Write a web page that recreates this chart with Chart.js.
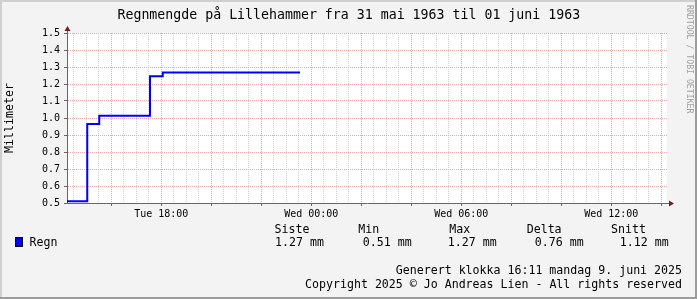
<!DOCTYPE html>
<html><head><meta charset="utf-8">
<script src="https://cdn.jsdelivr.net/npm/chart.js@4"></script>
<style>
html,body{margin:0;padding:0;background:#f3f3f3;}
#wrap{position:relative;width:697px;height:299px;overflow:hidden;font-family:"DejaVu Sans Mono",monospace;color:#000;}
canvas{position:absolute;left:0;top:0;}
.t{position:absolute;white-space:pre;}
.b{position:absolute;}
</style></head><body>
<div id="wrap">
<canvas id="c" width="697" height="299"></canvas>
</div>
<script>
// ---- data ----
const titleText = 'Regnmengde på Lillehammer fra 31 mai 1963 til 01 juni 1963';
const yAxisTitle = 'Millimeter';
const windowStart = 14.23;   // hours since Tue 00:00
const windowEnd = 38.23;
const times  = [14.23, 15.04, 15.52, 17.55, 18.06, 23.55];
const values = [0.51, 0.965, 1.013, 1.245, 1.267, 1.267];
const xLabelHours = [18, 24, 30, 36];
const xLabelTexts = ['Tue 18:00', 'Wed 00:00', 'Wed 06:00', 'Wed 12:00'];
const yTicks = [0.5, 0.6, 0.7, 0.8, 0.9, 1.0, 1.1, 1.2, 1.3, 1.4, 1.5];
const seriesName = 'Regn';
const statHeaders = ['Siste', 'Min', 'Max', 'Delta', 'Snitt'];
const statValues = ['1.27 mm', '0.51 mm', '1.27 mm', '0.76 mm', '1.12 mm'];
const footer1 = 'Generert klokka 16:11 mandag 9. juni 2025';
const footer2 = 'Copyright 2025 \u00a9 Jo Andreas Lien - All rights reserved';
const watermark = 'RRDTOOL / TOBI OETIKER';

// ---- html text ----
const wrap = document.getElementById('wrap');
function txt(s, size, cy, opts) {
  const d = document.createElement('div');
  d.className = 't';
  d.textContent = s;
  d.style.fontSize = size + 'px';
  d.style.lineHeight = (size * 1.164) + 'px';
  d.style.top = (cy - 0.563 * size) + 'px';
  if (opts.left !== undefined) d.style.left = opts.left + 'px';
  if (opts.right !== undefined) d.style.right = opts.right + 'px';
  if (opts.center !== undefined) { d.style.left = opts.center + 'px'; d.style.transform = 'translateX(-50%)'; }
  if (opts.color) d.style.color = opts.color;
  wrap.appendChild(d);
  return d;
}
txt(titleText, 13.25, 14.2, {center: 348.8});
const headerX = [274.6, 358.2, 449.3, 526.7, 611];
const valueX = [275, 362.8, 447.8, 534.8, 619.8];
statHeaders.forEach((h, i) => txt(h, 11.6, 229.2, {left: headerX[i]}));
statValues.forEach((v, i) => txt(v, 11.6, 243, {left: valueX[i]}));
txt(seriesName, 11.6, 243, {left: 29.5});
txt(footer1, 11.6, 270.8, {right: 15});
txt(footer2, 11.6, 284.8, {right: 15});
const sq = document.createElement('div');
sq.className = 'b';
sq.style.cssText = 'left:15px;top:237px;width:6px;height:8px;background:#0000ff;border:1px solid #000;';
wrap.appendChild(sq);
const wm = document.createElement('div');
wm.className = 't';
wm.textContent = watermark;
wm.style.cssText = 'writing-mode:vertical-rl;font-size:8.2px;line-height:9px;left:684.5px;top:5px;color:#a0a0a0;';
wrap.appendChild(wm);
// borders
[['left:0;top:0;width:2px;height:299px;background:#cfcfcf'],
 ['left:0;top:0;width:697px;height:2px;background:#cfcfcf'],
 ['right:0;top:0;width:2px;height:299px;background:#9c9c9c'],
 ['left:0;bottom:0;width:697px;height:2px;background:#9c9c9c']].forEach(s => {
  const d = document.createElement('div'); d.className = 'b'; d.style.cssText = s[0]; wrap.appendChild(d);
});

// ---- chart ----
const MAJOR = '#eaa6a6', MINOR = '#cfcfcf', AXIS = '#666666', ARROW = '#7a1c1c';
const pts = times.map((t, i) => ({x: t, y: values[i]}));
const plotBg = {
  id: 'plotBg',
  beforeDraw(chart) {
    const {ctx, chartArea: a} = chart;
    ctx.save(); ctx.fillStyle = '#ffffff';
    ctx.fillRect(a.left, a.top, a.right - a.left, a.bottom - a.top);
    ctx.restore();
  },
  afterDraw(chart) {
    const {ctx, chartArea: a} = chart;
    ctx.save();
    ctx.strokeStyle = AXIS; ctx.lineWidth = 1;
    ctx.beginPath(); ctx.moveTo(a.left + 0.5, a.top); ctx.lineTo(a.left + 0.5, a.top - 3); ctx.stroke();
    ctx.beginPath(); ctx.moveTo(a.right, a.bottom + 0.5); ctx.lineTo(a.right + 3, a.bottom + 0.5); ctx.stroke();
    ctx.fillStyle = ARROW;
    ctx.beginPath(); ctx.moveTo(a.left + 0.5, a.top - 7); ctx.lineTo(a.left - 2.5, a.top - 2); ctx.lineTo(a.left + 3.5, a.top - 2); ctx.closePath(); ctx.fill();
    ctx.beginPath(); ctx.moveTo(a.right + 7, a.bottom + 0.5); ctx.lineTo(a.right + 2, a.bottom - 2.5); ctx.lineTo(a.right + 2, a.bottom + 3.5); ctx.closePath(); ctx.fill();
    ctx.restore();
  }
};
const isMajor = v => Math.abs(v - Math.round(v / 2) * 2) < 1e-6;

new Chart(document.getElementById('c'), {
  type: 'line',
  data: { datasets: [{
    label: seriesName, data: pts, borderColor: '#0000ff', borderWidth: 2,
    pointRadius: 0, stepped: true, tension: 0, fill: false
  }]},
  options: {
    responsive: false, animation: false, devicePixelRatio: 1,
    layout: { padding: { left: 0, right: 30, top: 33, bottom: 76 } },
    plugins: { legend: { display: false }, title: { display: false }, tooltip: { enabled: false } },
    scales: {
      x: {
        type: 'linear', min: windowStart, max: windowEnd,
        afterBuildTicks(scale) {
          const t = [];
          for (let h = Math.ceil(windowStart * 2) / 2; h <= windowEnd + 1e-9; h += 0.5) t.push({value: h});
          scale.ticks = t;
        },
        afterFit(scale) { scale.height = 20; },
        ticks: {
          autoSkip: false, maxRotation: 0, minRotation: 0, padding: 2,
          font: { family: 'DejaVu Sans Mono', size: 10 }, color: '#000',
          callback(v) { const i = xLabelHours.findIndex(h => Math.abs(h - v) < 1e-6); return i >= 0 ? xLabelTexts[i] : ''; }
        },
        grid: {
          color: c => (c.tick && isMajor(c.tick.value)) ? MAJOR : MINOR,
          tickColor: c => (c.tick && isMajor(c.tick.value)) ? AXIS : 'rgba(0,0,0,0)',
          tickLength: 3, tickBorderDash: [], lineWidth: 1
        },
        border: { display: true, color: AXIS, width: 1, dash: [1, 1] }
      },
      y: {
        type: 'linear', min: 0.5, max: 1.5,
        afterBuildTicks(scale) { scale.ticks = yTicks.map(v => ({value: v})); },
        afterFit(scale) { scale.width = 67; },
        ticks: {
          padding: 4, font: { family: 'DejaVu Sans Mono', size: 10 }, color: '#000',
          callback: v => v.toFixed(1)
        },
        title: { display: true, text: yAxisTitle, padding: { top: 3, bottom: 0 },
                 font: { family: 'DejaVu Sans Mono', size: 11.6 }, color: '#000' },
        grid: { color: MAJOR, tickColor: AXIS, tickLength: 3, tickBorderDash: [], lineWidth: 1 },
        border: { display: true, color: AXIS, width: 1, dash: [1, 1] }
      }
    }
  },
  plugins: [plotBg]
});
</script>
</body></html>
